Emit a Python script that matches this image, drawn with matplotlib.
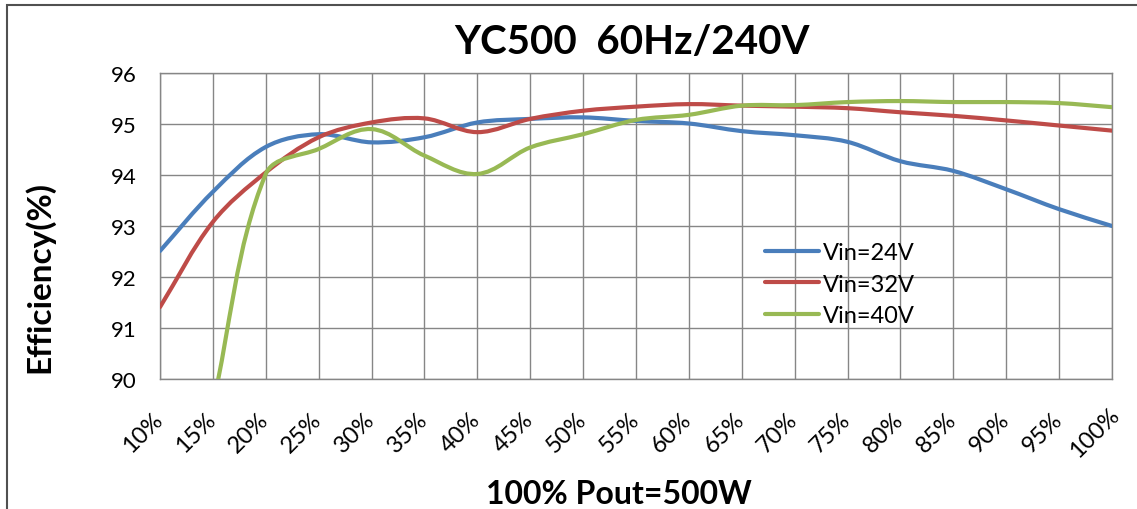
import numpy as np
import matplotlib
matplotlib.use('Agg')
import matplotlib.pyplot as plt
from matplotlib.path import Path
from matplotlib.patches import PathPatch, Rectangle
from matplotlib.lines import Line2D
from matplotlib.transforms import ScaledTranslation

# data
loads = ['10%', '15%', '20%', '25%', '30%', '35%', '40%', '45%', '50%', '55%',
         '60%', '65%', '70%', '75%', '80%', '85%', '90%', '95%', '100%']
vin24 = [92.51, 93.67, 94.55, 94.80, 94.64, 94.74, 95.03, 95.10, 95.13, 95.06,
         95.01, 94.86, 94.78, 94.65, 94.27, 94.08, 93.72, 93.33, 93.00]
vin32 = [91.41, 93.08, 94.05, 94.74, 95.03, 95.11, 94.84, 95.10, 95.26, 95.34,
         95.39, 95.36, 95.34, 95.31, 95.23, 95.16, 95.07, 94.97, 94.87]
vin40 = [np.nan, 89.50, 94.02, 94.51, 94.90, 94.38, 94.02, 94.54, 94.80, 95.08,
         95.18, 95.36, 95.37, 95.43, 95.45, 95.43, 95.43, 95.41, 95.33]
series_names = ['Vin=24V', 'Vin=32V', 'Vin=40V']
colors = ['#4A7EBB', '#BE4B48', '#98B954']

plt.rcParams['font.family'] = ['Lato', 'DejaVu Sans']

W, H = 1137, 510
fig = plt.figure(figsize=(W / 100, H / 100), dpi=100)
left, right, top, bottom = 160, 1112, 74, 380
ax = fig.add_axes([left / W, 1 - bottom / H, (right - left) / W, (bottom - top) / H])

# pixel size of one data unit, so the smoothing works in screen space
sx = (right - left) / (len(loads) - 1)
sy = (bottom - top) / 6.0


def smooth_path(xs, ys):
    # Excel-like smoothed line: cubic bezier, tangents weighted by segment lengths
    pts = [np.array([x * sx, y * sy]) for x, y in zip(xs, ys) if not np.isnan(y)]
    n = len(pts)
    tang = []
    for i in range(n):
        p0 = pts[i - 1] if i > 0 else pts[i]
        p2 = pts[i + 1] if i < n - 1 else pts[i]
        tang.append(p2 - p0)
    verts = [pts[0]]
    codes = [Path.MOVETO]
    for i in range(n - 1):
        p1, p2 = pts[i], pts[i + 1]
        d = np.hypot(*(p2 - p1))
        t1 = tang[i] / max(np.hypot(*tang[i]), 1e-9)
        t2 = tang[i + 1] / max(np.hypot(*tang[i + 1]), 1e-9)
        c1 = p1 + t1 * d / 3
        c2 = p2 - t2 * d / 3
        verts += [c1, c2, p2]
        codes += [Path.CURVE4] * 3
    verts = [(v[0] / sx, v[1] / sy) for v in verts]
    return Path(verts, codes)


xpos = np.arange(len(loads))
handles = []
for vals, name, c in zip([vin24, vin32, vin40], series_names, colors):
    patch = PathPatch(smooth_path(xpos, vals), fill=False, edgecolor=c, lw=3,
                      capstyle='round', joinstyle='round', zorder=3)
    ax.add_patch(patch)
    handles.append(Line2D([], [], color=c, lw=3, solid_capstyle='round'))

ax.set_xlim(0, len(loads) - 1)
ax.set_ylim(90, 96)
ax.set_yticks(range(90, 97))
ax.set_xticks(xpos)
ax.set_xticklabels(loads)
ax.grid(True, color='#868686', lw=1)
ax.set_axisbelow(True)
for s in ax.spines.values():
    s.set_color('#868686')
    s.set_linewidth(1)
ax.tick_params(axis='y', length=0, pad=17, labelsize=16)
ax.tick_params(axis='x', length=0, pad=0, labelsize=17)
for lab in ax.get_xticklabels():
    lab.set_rotation(45)
    lab.set_ha('center')
    lab.set_va('center')
    lab.set_rotation_mode('anchor')
    lab.set_transform(lab.get_transform() + ScaledTranslation(-0.17, -0.53, fig.dpi_scale_trans))

fig.text(632 / W, 1 - 43 / H, 'YC500  60Hz/240V', ha='center', va='center',
         fontsize=29, fontweight='bold')
fig.text(39 / W, 1 - 277 / H, 'Efficiency(%)', ha='center', va='center',
         rotation=90, fontsize=24, fontweight='bold')
fig.text(619 / W, 1 - 495 / H, '100% Pout=500W', ha='center', va='center',
         fontsize=23, fontweight='bold')

ax.legend(handles, series_names, loc='center left', frameon=False, fontsize=17,
          handlelength=2.3, handletextpad=0.15, labelspacing=0.45,
          bbox_to_anchor=(765 / W, 1 - 285 / H), bbox_transform=fig.transFigure,
          borderpad=0, borderaxespad=0)

fig.patches.append(Rectangle((7 / W, -0.05), 1.1, 1 - 6 / H + 0.05, transform=fig.transFigure,
                             fill=False, edgecolor='#505050', lw=1.5))

fig.savefig('out.png', dpi=100)
